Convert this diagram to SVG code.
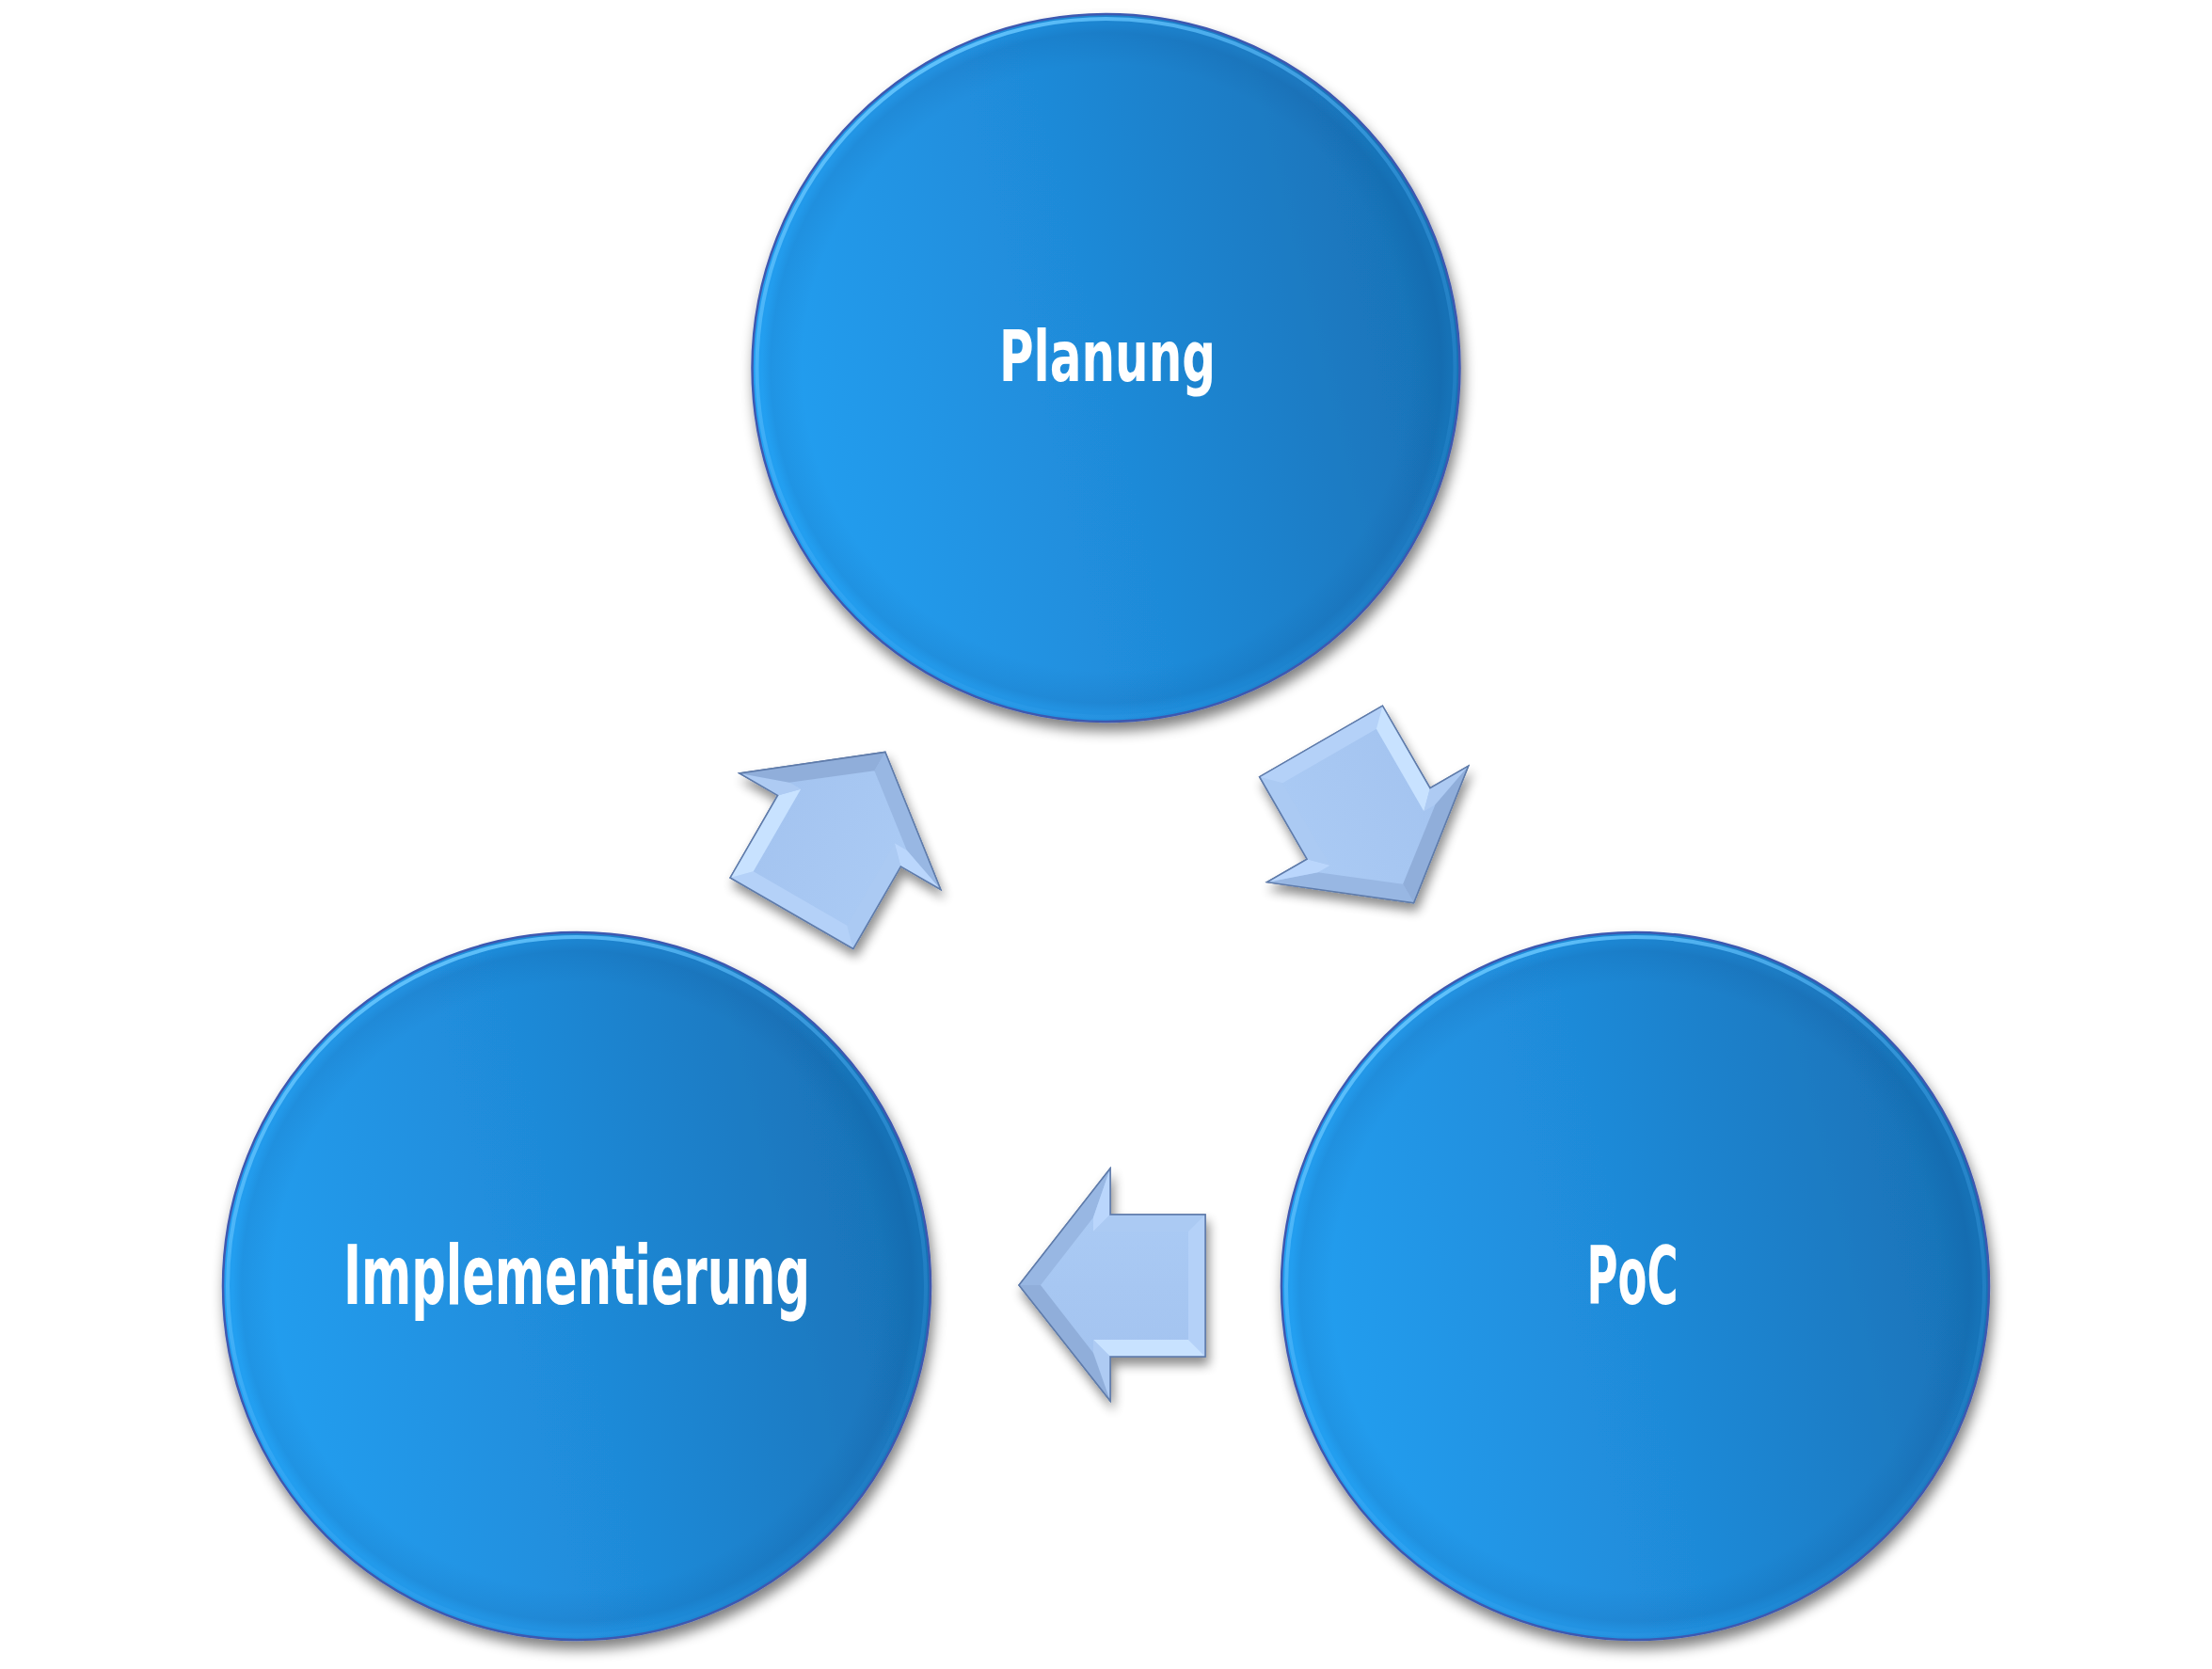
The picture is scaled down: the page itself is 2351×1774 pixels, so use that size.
<svg xmlns="http://www.w3.org/2000/svg" xmlns:xlink="http://www.w3.org/1999/xlink" width="2351" height="1774" viewBox="0 0 2351 1774">
<style>
.lbl{font-family:"DejaVu Sans Condensed","Liberation Sans Narrow","Liberation Sans",sans-serif;font-weight:bold;fill:#ffffff;text-anchor:middle}
.disc{fill:url(#discGrad);stroke:#3E58B0;stroke-width:2.5}
.rim{fill:url(#rimGrad)}
.hl{fill:none;stroke:url(#hlGrad);stroke-width:4}
.aout{fill:#A9C8F2;stroke:#5F7BAA;stroke-width:1.5;stroke-linejoin:miter}
</style>
<defs>
<linearGradient id="discGrad" x1="0" y1="0.62" x2="1" y2="0.38">
<stop offset="0" stop-color="#24A0F2"/>
<stop offset="0.5" stop-color="#1F8AD8"/>
<stop offset="1" stop-color="#1870B4"/>
</linearGradient>
<radialGradient id="rimGrad" cx="0.5" cy="0.5" r="0.5">
<stop offset="0.86" stop-color="#0A3A78" stop-opacity="0"/>
<stop offset="0.95" stop-color="#0A3A78" stop-opacity="0.10"/>
<stop offset="0.975" stop-color="#0A3A78" stop-opacity="0"/>
<stop offset="1" stop-color="#0A3A78" stop-opacity="0"/>
</radialGradient>
<linearGradient id="hlGrad" x1="0.2" y1="0" x2="0.8" y2="1">
<stop offset="0" stop-color="#6CCBFF" stop-opacity="0.95"/>
<stop offset="0.5" stop-color="#4FB4FA" stop-opacity="0.35"/>
<stop offset="1" stop-color="#4FB4FA" stop-opacity="0"/>
</linearGradient>
<linearGradient id="faceGrad" x1="0" y1="0" x2="0" y2="1">
<stop offset="0" stop-color="#AACAF4"/>
<stop offset="1" stop-color="#A4C4F0"/>
</linearGradient>
<filter id="shadow" x="-20%" y="-20%" width="140%" height="140%">
<feGaussianBlur in="SourceAlpha" stdDeviation="7"/>
<feOffset dx="3" dy="9" result="b"/>
<feComponentTransfer><feFuncA type="linear" slope="0.5"/></feComponentTransfer>
<feMerge><feMergeNode/><feMergeNode in="SourceGraphic"/></feMerge>
</filter>
<filter id="ashadow" x="-30%" y="-30%" width="160%" height="160%">
<feGaussianBlur in="SourceAlpha" stdDeviation="6"/>
<feOffset dx="3" dy="8" result="b"/>
<feComponentTransfer><feFuncA type="linear" slope="0.45"/></feComponentTransfer>
<feMerge><feMergeNode/><feMergeNode in="SourceGraphic"/></feMerge>
</filter>
<g id="arrowShape">
<polygon class="aout" points="1083,1366 1180,1242 1180,1291 1281,1291 1281,1442 1180,1442 1180,1489"/>
<polygon fill="url(#faceGrad)" points="1106,1366 1162,1294 1162,1309 1263,1309 1263,1424 1162,1424 1162,1438"/>
<polygon fill="#98B7E3" points="1083,1366 1180,1242 1162,1294 1106,1366"/>
<polygon fill="#BAD6FC" points="1180,1242 1180,1291 1162,1309 1162,1294"/>
<polygon fill="#ABCAF3" points="1180,1291 1281,1291 1263,1309 1162,1309"/>
<polygon fill="#B4D1F8" points="1281,1291 1281,1442 1263,1424 1263,1309"/>
<polygon fill="#C8E2FF" points="1281,1442 1180,1442 1162,1424 1263,1424"/>
<polygon fill="#AECBF3" points="1180,1442 1180,1489 1162,1438 1162,1424"/>
<polygon fill="#90AEDA" points="1180,1489 1083,1366 1106,1366 1162,1438"/>
<polygon fill="none" stroke="#5F7BAA" stroke-width="1.5" points="1083,1366 1180,1242 1180,1291 1281,1291 1281,1442 1180,1442 1180,1489"/>
</g>
</defs>
<rect width="2351" height="1774" fill="#ffffff"/>
<g id="connectors">
<g id="arrow-impl-planung" filter="url(#ashadow)"><use xlink:href="#arrowShape" transform="rotate(120 1175.5 1041.7)"/></g>
<g id="arrow-planung-poc" filter="url(#ashadow)"><use xlink:href="#arrowShape" transform="rotate(-120 1175.5 1041.7)"/></g>
<g id="arrow-poc-impl" filter="url(#ashadow)"><use xlink:href="#arrowShape"/></g>
</g>
<g id="node-planung">
<g filter="url(#shadow)"><circle class="disc" cx="1175.5" cy="391" r="376"/></g>
<circle class="rim" cx="1175.5" cy="391" r="375"/>
<circle class="hl" cx="1175.5" cy="391" r="371"/>
<text class="lbl" x="1177" y="405" font-size="75" textLength="230" lengthAdjust="spacingAndGlyphs">Planung</text>
</g>
<g id="node-implementierung">
<g filter="url(#shadow)"><circle class="disc" cx="613" cy="1367" r="376"/></g>
<circle class="rim" cx="613" cy="1367" r="375"/>
<circle class="hl" cx="613" cy="1367" r="371"/>
<text class="lbl" x="613" y="1386" font-size="87" textLength="496" lengthAdjust="spacingAndGlyphs">Implementierung</text>
</g>
<g id="node-poc">
<g filter="url(#shadow)"><circle class="disc" cx="1738" cy="1367" r="376"/></g>
<circle class="rim" cx="1738" cy="1367" r="375"/>
<circle class="hl" cx="1738" cy="1367" r="371"/>
<text class="lbl" x="1735" y="1386" font-size="86" textLength="97" lengthAdjust="spacingAndGlyphs">PoC</text>
</g>
</svg>
